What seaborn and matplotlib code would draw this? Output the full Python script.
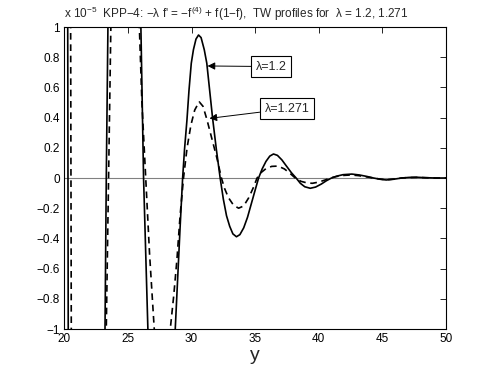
import matplotlib
matplotlib.use("Agg")
import matplotlib.pyplot as plt
import seaborn as sns

# lambda = 1.2 (solid), values in units of 1e-5
x_solid = [20.0, 20.27, 20.31, 21.8, 23.2, 23.3, 23.43, 24.7, 26.02, 26.23, 26.57,
           27.6, 28.72, 28.98, 29.1, 29.3, 29.45, 29.64, 29.8, 29.98, 30.15,
           30.35, 30.55, 30.75, 31.0, 31.2, 31.4, 31.65, 31.95, 32.25,
           32.5, 32.75, 33.0, 33.25, 33.53, 33.8, 34.1, 34.4, 34.7, 35.0, 35.27,
           35.55, 35.85, 36.15, 36.44, 36.75, 37.1, 37.45, 37.85, 38.22,
           38.55, 38.9, 39.33, 39.75, 40.2, 40.6, 41.0,
           41.4, 41.9, 42.6, 43.2, 43.8, 44.3,
           44.8, 45.3, 45.9, 46.5, 47.1, 47.7, 48.4, 49.2, 50.0]
y_solid = [9.0, 1.0, -1.0, -14.0, -1.0, 0.0, 1.0, 6.0, 1.0, 0.0, -1.0,
           -3.0, -1.0, -0.543, -0.33, 0.0, 0.19, 0.384, 0.58, 0.76, 0.85,
           0.92, 0.947, 0.93, 0.85, 0.76, 0.6, 0.4, 0.19, 0.0,
           -0.14, -0.25, -0.32, -0.37, -0.389, -0.375, -0.33, -0.26, -0.17, -0.08, 0.0,
           0.06, 0.11, 0.145, 0.159, 0.15, 0.12, 0.08, 0.035, 0.0,
           -0.035, -0.058, -0.068, -0.06, -0.04, -0.018, 0.0,
           0.012, 0.022, 0.026, 0.02, 0.01, 0.0,
           -0.008, -0.013, -0.008, 0.0, 0.004, 0.005, 0.002, 0.0, 0.0]

# lambda = 1.271 (dashed)
x_dash = [20.0, 20.5, 20.55, 21.9, 23.3, 23.48, 23.66, 24.8, 25.9, 26.1, 26.4,
          26.7, 27.07, 27.7, 28.33, 28.6, 28.85, 29.1, 29.37, 29.65, 29.95,
          30.25, 30.6, 30.9, 31.2, 31.6, 32.0, 32.35,
          32.6, 32.9, 33.3, 33.7, 34.1, 34.5, 34.85, 35.15,
          35.45, 35.85, 36.3, 36.8, 37.3, 37.75, 38.15,
          38.6, 39.1, 39.5, 40.0, 40.5, 40.9,
          41.4, 41.9, 42.5, 43.1, 43.7, 44.3,
          44.8, 45.3, 45.9, 46.5, 47.1, 47.7, 48.4, 49.2, 50.0]
y_dash = [8.0, 1.0, -1.0, -12.0, -1.0, 0.0, 1.0, 5.0, 1.0, 0.5, 0.0,
          -0.5, -1.0, -2.0, -1.0, -0.78, -0.543, -0.25, 0.0, 0.2, 0.35,
          0.45, 0.505, 0.475, 0.39, 0.26, 0.13, 0.0,
          -0.07, -0.13, -0.18, -0.2, -0.185, -0.13, -0.065, 0.0,
          0.035, 0.062, 0.077, 0.079, 0.06, 0.03, 0.0,
          -0.022, -0.033, -0.035, -0.027, -0.013, 0.0,
          0.01, 0.017, 0.02, 0.016, 0.008, 0.0,
          -0.007, -0.012, -0.007, 0.0, 0.003, 0.004, 0.002, 0.0, 0.0]

y_ticks = [-1, -0.8, -0.6, -0.4, -0.2, 0, 0.2, 0.4, 0.6, 0.8, 1]
y_tick_labels = ["\u22121", "\u22120.8", "\u22120.6", "\u22120.4", "\u22120.2",
                 "0", "0.2", "0.4", "0.6", "0.8", "1"]
x_ticks = [20, 25, 30, 35, 40, 45, 50]

sns.set_style("white")
plt.rcParams["font.family"] = ["Liberation Sans", "DejaVu Sans"]
plt.rcParams["mathtext.fontset"] = "custom"
plt.rcParams["mathtext.rm"] = "Liberation Sans"
plt.rcParams["mathtext.it"] = "Liberation Sans:italic"

fig = plt.figure(figsize=(4.93, 3.70), dpi=100)
ax = fig.add_axes([0.1304, 0.1108, 0.7743, 0.8162])

ax.axhline(0, color="#808080", lw=0.8, zorder=1)
sns.lineplot(x=x_solid, y=y_solid, ax=ax, color="black", lw=1.2,
             sort=False, estimator=None, zorder=3)
sns.lineplot(x=x_dash, y=y_dash, ax=ax, color="black", lw=1.2,
             linestyle=(0, (4, 2.8)), sort=False, estimator=None, zorder=3)

ax.set_xlim(20, 50)
ax.set_ylim(-1, 1)
ax.set_xticks(x_ticks)
ax.set_xticklabels([str(t) for t in x_ticks], fontsize=8.5)
ax.set_yticks(y_ticks)
ax.set_yticklabels(y_tick_labels, fontsize=8.5)
ax.tick_params(direction="in", top=True, right=True, length=4, width=0.6,
               colors="black", pad=3)
for s in ax.spines.values():
    s.set_color("black")
    s.set_linewidth(0.8)

ax.set_xlabel("y", fontsize=14, labelpad=1)
ax.set_ylabel("")

ax.text(0, 1.012,
        "x 10$^{\u22125}$  KPP\u22124: \u2212\u03bb f' = \u2212f$^{(4)}$ + f(1\u2212f),  "
        "TW profiles for  \u03bb = 1.2, 1.271",
        transform=ax.transAxes, ha="left", va="bottom", fontsize=8.5)

box = dict(boxstyle="square,pad=0.35", fc="white", ec="black", lw=0.8)
arrow = dict(arrowstyle="-|>", color="black", lw=0.7, mutation_scale=11,
             shrinkA=0, shrinkB=0)
ax.annotate("\u03bb=1.2", xy=(31.26, 0.742), xytext=(36.26, 0.738),
            ha="center", va="center", fontsize=9, bbox=box, arrowprops=arrow)
ax.annotate("\u03bb=1.271", xy=(31.41, 0.395), xytext=(37.5, 0.458),
            ha="center", va="center", fontsize=9, bbox=box, arrowprops=arrow)

fig.savefig("out.png", dpi=100)
